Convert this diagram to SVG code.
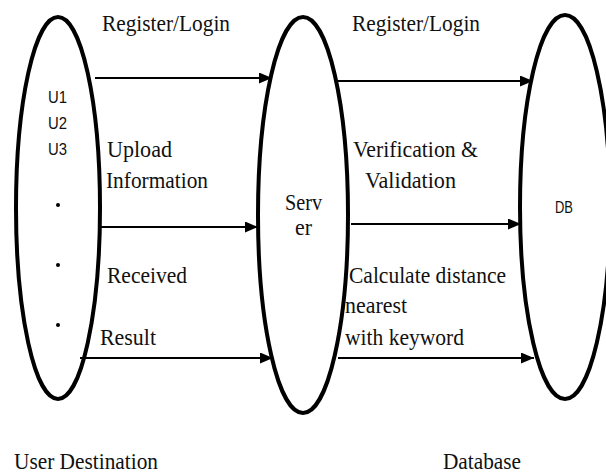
<svg xmlns="http://www.w3.org/2000/svg" width="606" height="474" viewBox="0 0 606 474">
<style>
.node{fill:none;stroke:#000;stroke-width:4}
.conn{stroke:#000;stroke-width:2;fill:none}
.t{font-family:"Liberation Serif","Times New Roman",serif;font-size:24px;fill:#111}
.s{font-family:"Liberation Sans",Arial,sans-serif;font-size:16px;fill:#111}
</style>
<defs>
<marker id="ah" markerUnits="userSpaceOnUse" markerWidth="13" markerHeight="11" refX="13" refY="5.5" orient="auto">
<path d="M0,0 L13,5.5 L0,11 z" fill="#000"/>
</marker>
</defs>
<rect width="606" height="474" fill="#fff"/>
<g id="user">
<ellipse class="node" cx="58" cy="208" rx="42" ry="191"/>
<text class="s" x="48" y="103" textLength="19" lengthAdjust="spacingAndGlyphs">U1</text>
<text class="s" x="48" y="129" textLength="19" lengthAdjust="spacingAndGlyphs">U2</text>
<text class="s" x="48" y="155" textLength="19" lengthAdjust="spacingAndGlyphs">U3</text>
<circle cx="58" cy="205" r="2" fill="#000"/>
<circle cx="58" cy="265" r="2" fill="#000"/>
<circle cx="58" cy="325" r="2" fill="#000"/>
<text class="t" x="14" y="469" textLength="144" lengthAdjust="spacingAndGlyphs">User Destination</text>
</g>
<g id="server">
<ellipse class="node" cx="303" cy="215" rx="45" ry="198"/>
<text class="t" x="285" y="210" textLength="37" lengthAdjust="spacingAndGlyphs">Serv</text>
<text class="t" x="295" y="235" textLength="17" lengthAdjust="spacingAndGlyphs">er</text>
</g>
<g id="db">
<ellipse class="node" cx="565" cy="207" rx="45" ry="192"/>
<text class="s" x="555" y="213" textLength="18" lengthAdjust="spacingAndGlyphs">DB</text>
<text class="t" x="443" y="469" textLength="78" lengthAdjust="spacingAndGlyphs">Database</text>
</g>
<g id="connectors">
<line class="conn" x1="95" y1="78" x2="272" y2="78" marker-end="url(#ah)"/>
<line class="conn" x1="101" y1="227" x2="258" y2="227" marker-end="url(#ah)"/>
<line class="conn" x1="80" y1="358" x2="273" y2="358" marker-end="url(#ah)"/>
<line class="conn" x1="338" y1="81" x2="533" y2="81" marker-end="url(#ah)"/>
<line class="conn" x1="351" y1="224" x2="521" y2="224" marker-end="url(#ah)"/>
<line class="conn" x1="338" y1="358" x2="534" y2="358" marker-end="url(#ah)"/>
<text class="t" x="102" y="31" textLength="128" lengthAdjust="spacingAndGlyphs">Register/Login</text>
<text class="t" x="107" y="157" textLength="65" lengthAdjust="spacingAndGlyphs">Upload</text>
<text class="t" x="106" y="188" textLength="102" lengthAdjust="spacingAndGlyphs">Information</text>
<text class="t" x="107" y="283" textLength="80" lengthAdjust="spacingAndGlyphs">Received</text>
<text class="t" x="100" y="345" textLength="56" lengthAdjust="spacingAndGlyphs">Result</text>
<text class="t" x="352" y="31" textLength="128" lengthAdjust="spacingAndGlyphs">Register/Login</text>
<text class="t" x="353" y="157" textLength="125" lengthAdjust="spacingAndGlyphs">Verification &amp;</text>
<text class="t" x="365" y="188" textLength="91" lengthAdjust="spacingAndGlyphs">Validation</text>
<text class="t" x="349" y="283" textLength="157" lengthAdjust="spacingAndGlyphs">Calculate distance</text>
<text class="t" x="345" y="313" textLength="62" lengthAdjust="spacingAndGlyphs">nearest</text>
<text class="t" x="345" y="345" textLength="119" lengthAdjust="spacingAndGlyphs">with keyword</text>
</g>
</svg>
